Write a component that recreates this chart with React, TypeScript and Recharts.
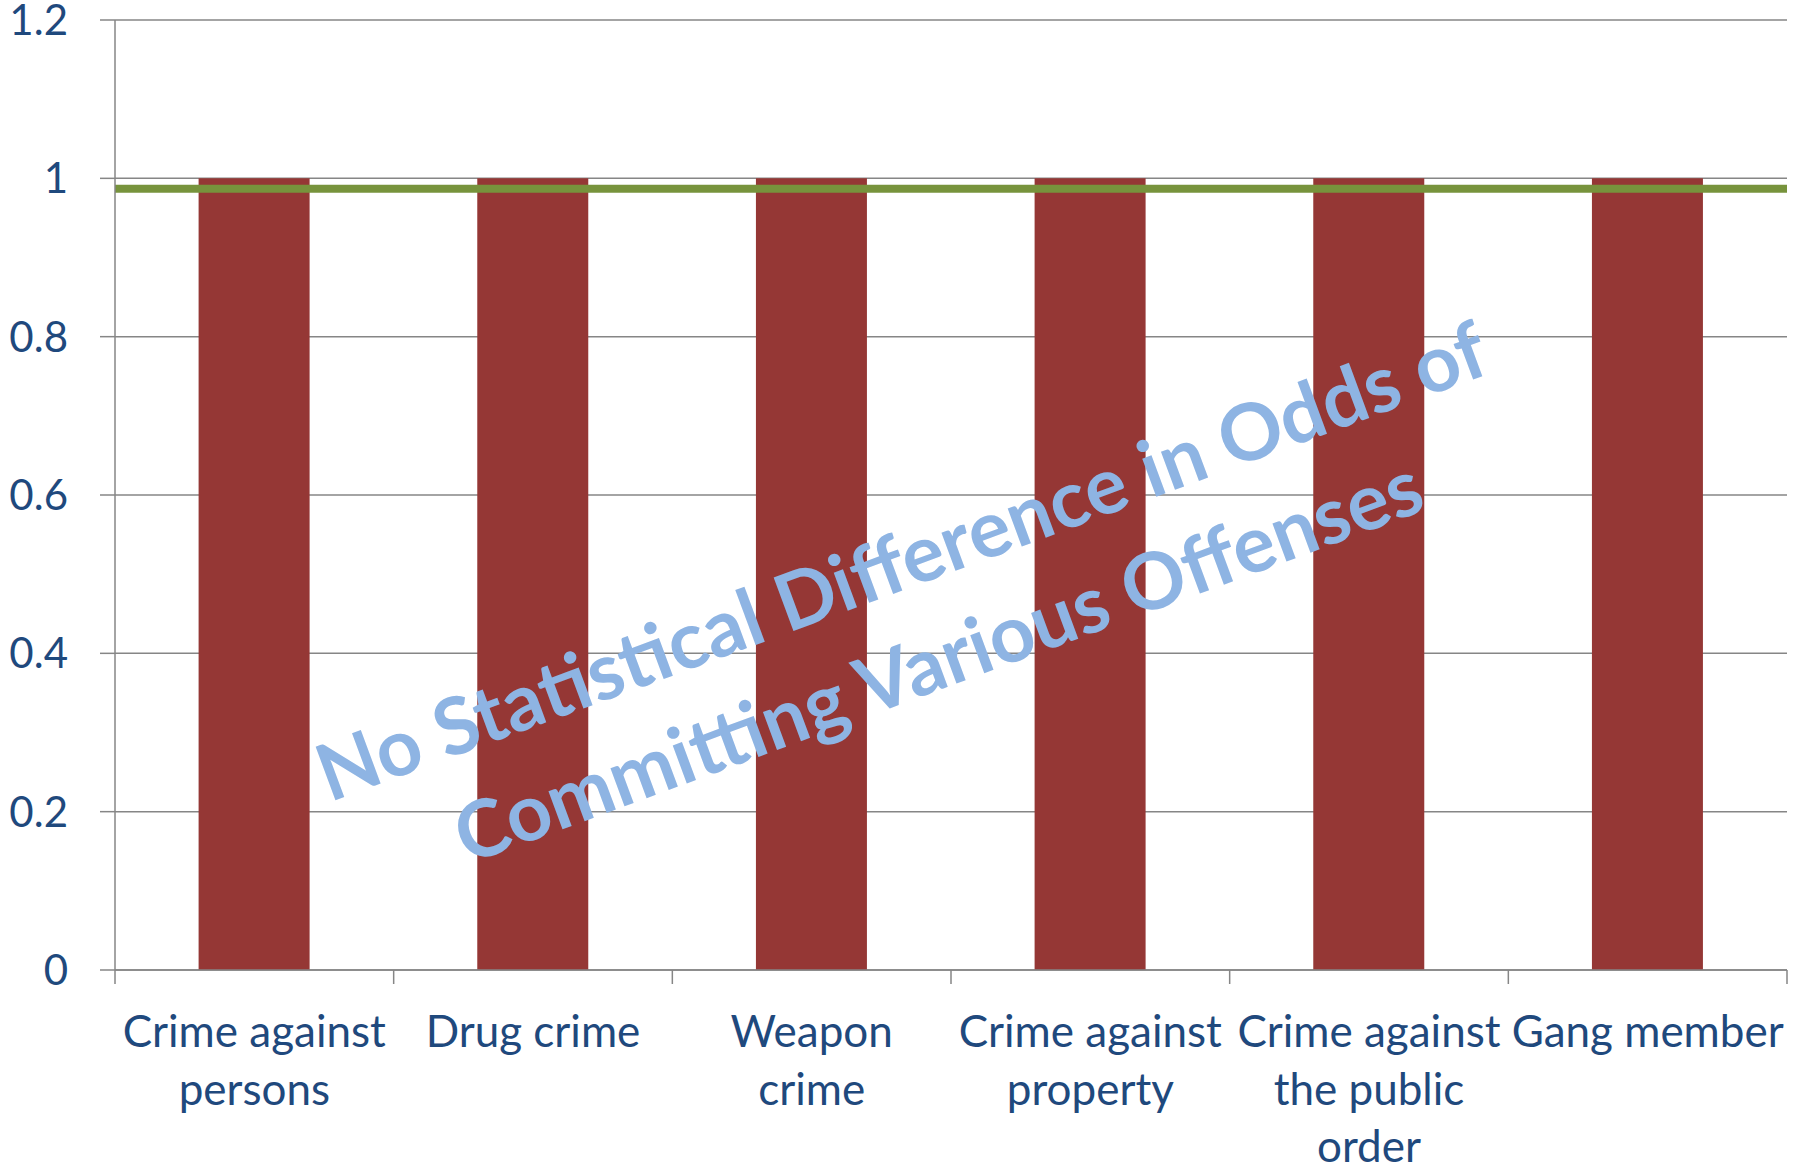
import React from "react";
import { BarChart, Bar, XAxis, YAxis, CartesianGrid, ReferenceLine } from "recharts";

const categories = [
  "Crime against persons",
  "Drug crime",
  "Weapon crime",
  "Crime against property",
  "Crime against the public order",
  "Gang member",
];
const tickLabelLines = [
  ["Crime against", "persons"],
  ["Drug crime"],
  ["Weapon", "crime"],
  ["Crime against", "property"],
  ["Crime against", "the public", "order"],
  ["Gang member"],
];
const oddsRatios = [1, 1, 1, 1, 1, 1];
const referenceLevel = 0.987;
const yTicks = [0, 0.2, 0.4, 0.6, 0.8, 1, 1.2];
const watermarkLines = ["No Statistical Difference in Odds of", "Committing Various Offenses"];

const data = categories.map((c, i) => ({ category: c, value: oddsRatios[i] }));

const W = 1804;
const H = 1168;
const TEXT = "#1F497D";
const GRID = "#868686";
const FONT = "Lato, 'Open Sans', sans-serif";
const FS_X = 44;
const FS_Y = 42;

const XTick = (props: any) => {
  const { x, y, payload, index, width, visibleTicksCount } = props;
  const idx = payload?.index ?? index;
  const n = visibleTicksCount || categories.length;
  const half = (width || 1672) / n / 2;
  const lines = tickLabelLines[idx] || [String(payload?.value)];
  return (
    <g>
      <line x1={x - half} x2={x - half} y1={y} y2={y + 14} stroke={GRID} strokeWidth={1.5} />
      {idx === n - 1 && (
        <line x1={x + half} x2={x + half} y1={y} y2={y + 14} stroke={GRID} strokeWidth={1.5} />
      )}
      <text textAnchor="middle" fill={TEXT} fontSize={FS_X} fontFamily={FONT}>
        {lines.map((l: string, i: number) => (
          <tspan key={i} x={x} y={y + 77 + i * 57.5}>
            {l}
          </tspan>
        ))}
      </text>
    </g>
  );
};

export default function App() {
  return (
    <div style={{ position: "absolute", left: 0, top: 0, width: W, height: H, background: "#fff" }}>
      <BarChart
        width={W}
        height={H}
        data={data}
        margin={{ top: 20, right: 17, bottom: 0, left: 0 }}
        barCategoryGap="30%"
      >
        <CartesianGrid vertical={false} stroke={GRID} strokeWidth={1.5} />
        <XAxis
          dataKey="category"
          height={198}
          tickLine={false}
          tickSize={0}
          tickMargin={0}
          interval={0}
          axisLine={{ stroke: GRID, strokeWidth: 1.5 }}
          tick={<XTick />}
        />
        <YAxis
          width={115}
          domain={[0, 1.2]}
          ticks={yTicks}
          interval={0}
          tickSize={15}
          tickMargin={32}
          tickLine={{ stroke: GRID, strokeWidth: 1.5 }}
          axisLine={{ stroke: GRID, strokeWidth: 1.5 }}
          tick={{ fill: TEXT, fontSize: FS_Y, fontFamily: FONT }}
        />
        <Bar dataKey="value" fill="#953735" isAnimationActive={false} />
        <ReferenceLine y={referenceLevel} stroke="#77933C" strokeWidth={8} ifOverflow="extendDomain" />
      </BarChart>
      <div
        style={{
          position: "absolute",
          left: 919,
          top: 609,
          transform: "translate(-50%, -50%) rotate(-20.3deg)",
          color: "#8EB4E3",
          fontFamily: FONT,
          fontWeight: 700,
          fontSize: 79,
          lineHeight: "106px",
          textAlign: "center",
          whiteSpace: "nowrap",
          pointerEvents: "none",
        }}
      >
        {watermarkLines.map((l, i) => (
          <div key={i}>{l}</div>
        ))}
      </div>
    </div>
  );
}
